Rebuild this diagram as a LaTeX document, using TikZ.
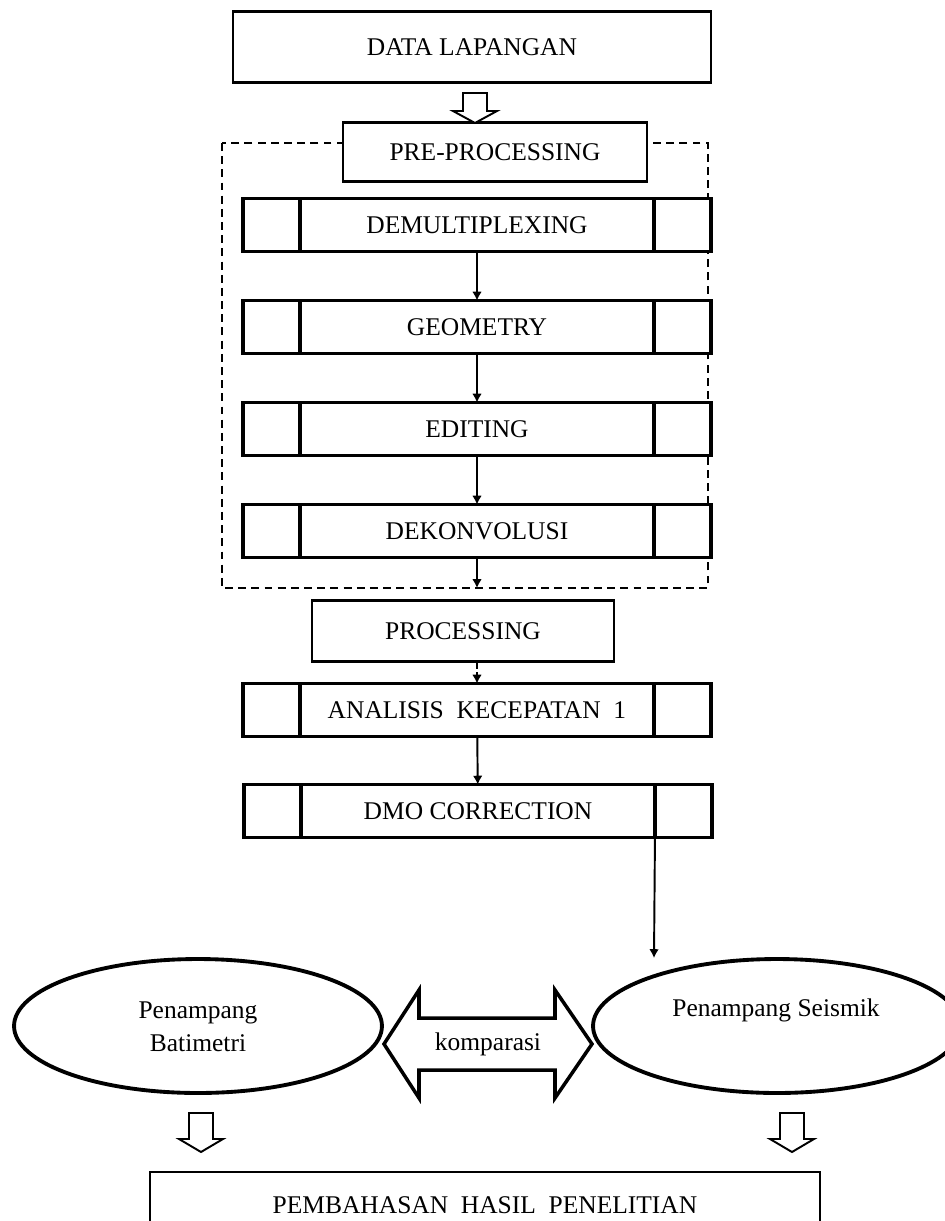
\documentclass[tikz,border=0pt]{standalone}
\usepackage{fontspec}
\setmainfont{Liberation Serif}
\usetikzlibrary{shapes.geometric,arrows.meta}

\begin{document}
\begin{tikzpicture}[x=0.02cm,y=-0.02cm,>={Latex[length=5pt,width=5.5pt]},font=\fontsize{14.5}{17}\selectfont]
  \tikzstyle{kotak}=[draw,line width=1.3pt,inner sep=0pt,outer sep=0pt,fill=white]
  \tikzstyle{proses}=[draw,line width=2.2pt,inner sep=0pt,outer sep=0pt,fill=white,minimum width=9.36cm,minimum height=1.06cm]
  \tikzstyle{ellips}=[draw,ellipse,line width=2.2pt,inner sep=0pt,minimum width=7.36cm,minimum height=2.68cm]
  \tikzstyle{panah}=[->,line width=1.1pt]
  \tikzstyle{kosong}=[line width=1.1pt,fill=white]
  \useasboundingbox (0,0) rectangle (945,1221);
  \node[kotak,minimum width=9.56cm,minimum height=1.42cm] (data) at (472,47) {DATA LAPANGAN};
  \draw[line width=1pt,dash pattern=on 4.5pt off 3pt] (222,143) rectangle (708,588);
  \node[kotak,minimum width=6.08cm,minimum height=1.18cm] (pre) at (495,152) {PRE-PROCESSING};
  \node[proses] (demux) at (477,225) {DEMULTIPLEXING};
  \node[proses] (geom) at (477,327) {GEOMETRY};
  \node[proses] (edit) at (477,429) {EDITING};
  \node[proses] (dekon) at (477,531) {DEKONVOLUSI};
  \node[kotak,minimum width=6.04cm,minimum height=1.22cm] (proc) at (463,631) {PROCESSING};
  \node[proses] (anal) at (477,710) {ANALISIS\ \ KECEPATAN\ \ 1};
  \node[proses] (dmo) at (478,811) {DMO CORRECTION};
  \foreach \n in {demux,geom,edit,dekon,anal,dmo}
    \draw[line width=2.2pt] ([xshift=1.14cm]\n.north west) -- ([xshift=1.14cm]\n.south west)
      ([xshift=-1.14cm]\n.north east) -- ([xshift=-1.14cm]\n.south east);
  \node[ellips] (bati) at (198,1026) {};
  \node[ellips] (seis) at (777,1026) {};
  \node[align=center] (tbati) at (198,1027) {Penampang\\[2pt]Batimetri};
  \node (tseis) at (776,1010) {Penampang Seismik};
  \node[kotak,minimum width=13.4cm,minimum height=1.8cm] (bahas) at (485,1217) {};
  \node (tbahas) at (485,1205) {PEMBAHASAN\ \ HASIL\ \ PENELITIAN};
  \coordinate (batas) at (477,588);
  \coordinate (ujung) at (654,958);
  \draw[panah] (demux) -- (geom);
  \draw[panah] (geom) -- (edit);
  \draw[panah] (edit) -- (dekon);
  \draw[panah] (dekon) -- (batas);
  \draw[panah,dash pattern=on 4pt off 2pt] (anal.north |- proc.south) -- (anal.north);
  \draw[panah] (anal) -- (dmo);
  \draw[panah] ([xshift=-1.14cm]dmo.south east) -- (ujung);
  \coordinate (a1) at (475,93);
  \coordinate (a2) at (201,1113);
  \coordinate (a3) at (792,1113);
  \draw[kosong] (a1) ++(-12,0) -- ++(24,0) -- ++(0,18) -- ++(10,0) -- ++(-22,12) -- ++(-22,-12) -- ++(10,0) -- cycle;
  \foreach \a in {a2,a3}
    \draw[kosong] (\a) ++(-12,0) -- ++(24,0) -- ++(0,26) -- ++(10,0) -- ++(-22,13) -- ++(-22,-13) -- ++(10,0) -- cycle;
  \coordinate (komp) at (488,1044);
  \draw[line width=2pt] (komp) ++(-104,0) -- ++(35,-54) -- ++(0,28) -- ++(136,0) -- ++(0,-28) -- ++(37,54)
    -- ++(-37,54) -- ++(0,-28) -- ++(-136,0) -- ++(0,28) -- cycle;
  \node (tkomp) at (komp) {komparasi};
\end{tikzpicture}
\end{document}
